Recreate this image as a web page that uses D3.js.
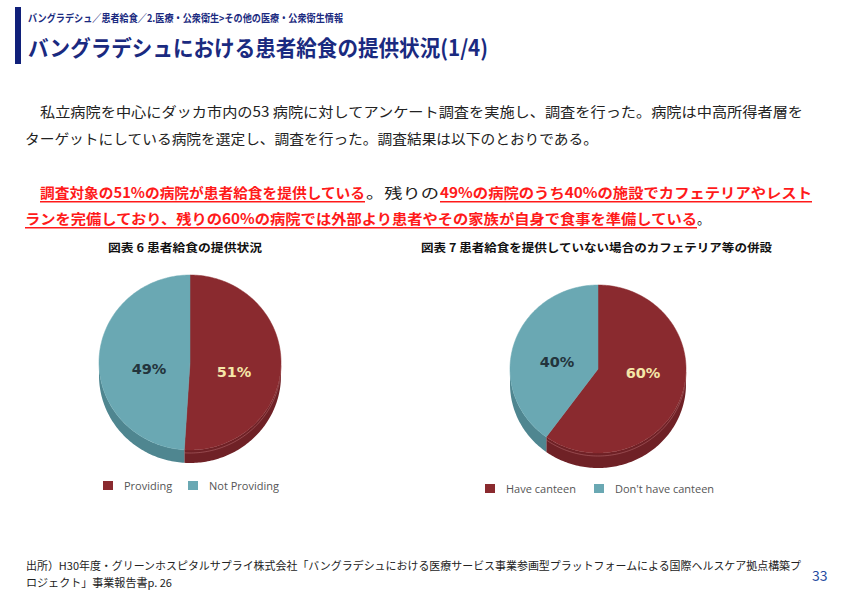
<!DOCTYPE html>
<html><head><meta charset="utf-8">
<script src="https://cdn.jsdelivr.net/npm/d3@7"></script>
<style>
html,body{margin:0;padding:0;background:#fff;}
svg{display:block;font-family:"Noto Sans CJK JP","Noto Sans",sans-serif;}
</style></head>
<body>
<script>
// ---- data ----
const chart1Title = "図表 6 患者給食の提供状況";
const chart1Labels = ["Providing", "Not Providing"];
const chart1Values = [51, 49];
const chart2Title = "図表 7 患者給食を提供していない場合のカフェテリア等の併設";
const chart2Labels = ["Have canteen", "Don't have canteen"];
const chart2Values = [60, 40];
const sliceColors = ["#8a2a2f", "#6aa8b3"];
const sideColors = ["#6f2126", "#4f8690"];
const labelColors = ["#f5e6a8", "#23343c"];

const W = 842, H = 595;
const svg = d3.select("body").append("svg").attr("width", W).attr("height", H);

// ---- header ----
svg.append("rect").attr("x", 15).attr("y", 7).attr("width", 6).attr("height", 57).attr("fill", "#10207a");
svg.append("text").attr("x", 28).attr("y", 22).attr("font-size", 10.5).attr("font-weight", 700)
  .attr("fill", "#1a2a80").attr("textLength", 315).attr("lengthAdjust", "spacingAndGlyphs")
  .text("バングラデシュ／患者給食／2.医療・公衆衛生>その他の医療・公衆衛生情報");
svg.append("text").attr("x", 28).attr("y", 56).attr("font-size", 22).attr("font-weight", 700)
  .attr("fill", "#1a2a80").attr("textLength", 460).attr("lengthAdjust", "spacingAndGlyphs")
  .text("バングラデシュにおける患者給食の提供状況(1/4)");

// ---- body text ----
svg.append("text").attr("x", 40).attr("y", 117).attr("font-size", 14).attr("fill", "#222")
  .attr("textLength", 763).attr("lengthAdjust", "spacingAndGlyphs")
  .text("私立病院を中心にダッカ市内の53 病院に対してアンケート調査を実施し、調査を行った。病院は中高所得者層を");
svg.append("text").attr("x", 25).attr("y", 144).attr("font-size", 14).attr("fill", "#222")
  .attr("textLength", 573).attr("lengthAdjust", "spacingAndGlyphs")
  .text("ターゲットにしている病院を選定し、調査を行った。調査結果は以下のとおりである。");

function seg(x, y, w, txt, red) {
  svg.append("text").attr("x", x).attr("y", y).attr("font-size", 14)
    .attr("font-weight", red ? 700 : 400).attr("fill", red ? "#ff1a1a" : "#222")
    .attr("textLength", w).attr("lengthAdjust", "spacingAndGlyphs").text(txt);
  if (red) svg.append("rect").attr("x", x).attr("y", y + 3).attr("width", w).attr("height", 1.5).attr("fill", "#ff1a1a");
}
seg(40, 198, 325, "調査対象の51%の病院が患者給食を提供している", true);
seg(366, 198, 73, "。残りの", false);
seg(440, 198, 372, "49%の病院のうち40%の施設でカフェテリアやレスト", true);
seg(25, 224, 672, "ランを完備しており、残りの60%の病院では外部より患者やその家族が自身で食事を準備している", true);
seg(697, 224, 13, "。", false);

// ---- 3D pies ----
function pie3d(opts) {
  const g = svg.append("g");
  const arcs = d3.pie().sort(null).value(d => d)(opts.values);
  const ex = a => opts.cx + opts.rx * Math.sin(a);
  const ey = a => opts.cy - opts.ry * Math.cos(a);
  const line = d3.line();
  const sample = (a0, a1) => {
    const n = Math.max(2, Math.ceil((a1 - a0) / 0.02));
    return d3.range(n + 1).map(i => a0 + (a1 - a0) * i / n);
  };
  // side walls (front half only)
  arcs.forEach((a, i) => {
    const s = Math.max(a.startAngle, Math.PI / 2), e = Math.min(a.endAngle, 3 * Math.PI / 2);
    if (e <= s) return;
    const top = sample(s, e).map(t => [ex(t), ey(t)]);
    const bot = top.slice().reverse().map(p => [p[0], p[1] + opts.depth]);
    g.append("path").attr("d", line(top.concat(bot)) + "Z").attr("fill", sideColors[i]);
    if (i === 0) g.append("path").attr("d", line(top.map(p => [p[0], p[1] + 3])))
      .attr("fill", "none").attr("stroke", "#c0767a").attr("stroke-width", 0.6).attr("opacity", 0.8);
  });
  // top faces
  arcs.forEach((a, i) => {
    const pts = [[opts.cx, opts.cy]].concat(sample(a.startAngle, a.endAngle).map(t => [ex(t), ey(t)]));
    g.append("path").attr("d", line(pts) + "Z").attr("fill", sliceColors[i])
      .attr("stroke", sliceColors[i]).attr("stroke-width", 0.5);
  });
  // value labels
  arcs.forEach((a, i) => {
    g.append("text").attr("x", opts.labelPos[i][0]).attr("y", opts.labelPos[i][1])
      .attr("text-anchor", "middle").attr("font-family", "'DejaVu Sans',sans-serif")
      .attr("font-size", 14.5).attr("font-weight", 700).attr("fill", labelColors[i])
      .text(a.data + "%");
  });
  // title
  svg.append("text").attr("x", opts.titleX).attr("y", 252).attr("font-size", 11.5).attr("font-weight", 700)
    .attr("fill", "#111").attr("textLength", opts.titleW).attr("lengthAdjust", "spacingAndGlyphs").text(opts.title);
  // legend
  opts.labels.forEach((l, i) => {
    svg.append("rect").attr("x", opts.legX[i]).attr("y", opts.legY - 9).attr("width", 10).attr("height", 9)
      .attr("fill", sliceColors[i]);
    svg.append("text").attr("x", opts.legX[i] + 21).attr("y", opts.legY).attr("font-size", 11)
      .attr("font-family", "'Open Sans','DejaVu Sans',sans-serif").attr("fill", "#555").text(l);
  });
}

pie3d({values: chart1Values, labels: chart1Labels, title: chart1Title,
  cx: 190, cy: 362.5, rx: 91, ry: 87.5, depth: 13,
  labelPos: [[234, 377], [149, 374]], titleX: 108, titleW: 154,
  legX: [103, 188], legY: 490});
pie3d({values: chart2Values, labels: chart2Labels, title: chart2Title,
  cx: 598, cy: 369, rx: 88, ry: 84, depth: 15,
  labelPos: [[643, 378], [557, 367]], titleX: 421, titleW: 351,
  legX: [485, 594], legY: 493});

// ---- footer ----
svg.append("text").attr("x", 26).attr("y", 570).attr("font-size", 11).attr("fill", "#222")
  .attr("textLength", 775).attr("lengthAdjust", "spacingAndGlyphs")
  .text("出所）H30年度・グリーンホスピタルサプライ株式会社「バングラデシュにおける医療サービス事業参画型プラットフォームによる国際ヘルスケア拠点構築プ");
svg.append("text").attr("x", 26).attr("y", 587).attr("font-size", 11).attr("fill", "#222")
  .attr("textLength", 146).attr("lengthAdjust", "spacingAndGlyphs")
  .text("ロジェクト」事業報告書p. 26");
svg.append("text").attr("x", 812).attr("y", 581).attr("font-size", 14).attr("fill", "#1f4aa0").text("33");
</script>
</body></html>
